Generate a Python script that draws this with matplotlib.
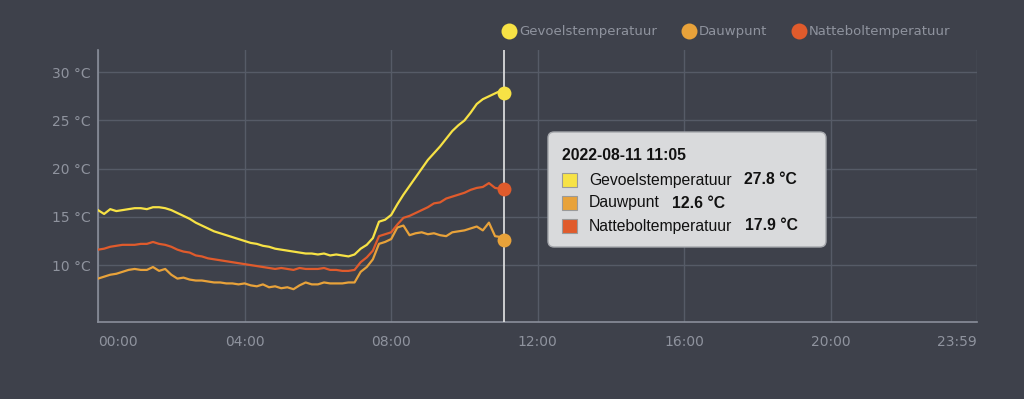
"""
Temperatuurverloop 2022-08-11: gevoelstemperatuur, dauwpunt en natteboltemperatuur
"""

import numpy as np
import matplotlib.pyplot as plt
from matplotlib.lines import Line2D
from matplotlib.patches import FancyBboxPatch, Rectangle
from matplotlib.text import Annotation

# metingen om de 10 minuten vanaf 00:00, laatste meting 11:05
minuten = list(range(0, 661, 10)) + [665]

gevoel = [
    15.7, 15.3, 15.8, 15.6, 15.7, 15.8, 15.9, 15.9, 15.8, 16.0, 16.0, 15.9,
    15.7, 15.4, 15.1, 14.8, 14.4, 14.1, 13.8, 13.5, 13.3, 13.1, 12.9, 12.7,
    12.5, 12.3, 12.2, 12.0, 11.9, 11.7, 11.6, 11.5, 11.4, 11.3, 11.2, 11.2,
    11.1, 11.2, 11.0, 11.1, 11.0, 10.9, 11.1, 11.7, 12.1, 12.8, 14.5, 14.7,
    15.2, 16.3, 17.3, 18.2, 19.1, 20.0, 20.9, 21.6, 22.3, 23.1, 23.9, 24.5,
    25.0, 25.8, 26.7, 27.2, 27.5, 27.8, 28.1, 27.8,
]
dauwpunt = [
    8.6, 8.8, 9.0, 9.1, 9.3, 9.5, 9.6, 9.5, 9.5, 9.8, 9.4, 9.6,
    9.0, 8.6, 8.7, 8.5, 8.4, 8.4, 8.3, 8.2, 8.2, 8.1, 8.1, 8.0,
    8.1, 7.9, 7.8, 8.0, 7.7, 7.8, 7.6, 7.7, 7.5, 7.9, 8.2, 8.0,
    8.0, 8.2, 8.1, 8.1, 8.1, 8.2, 8.2, 9.3, 9.8, 10.6, 12.2, 12.4,
    12.7, 13.9, 14.1, 13.1, 13.3, 13.4, 13.2, 13.3, 13.1, 13.0, 13.4, 13.5,
    13.6, 13.8, 14.0, 13.6, 14.4, 13.0, 12.9, 12.6,
]
natbol = [
    11.6, 11.7, 11.9, 12.0, 12.1, 12.1, 12.1, 12.2, 12.2, 12.4, 12.2, 12.1,
    11.9, 11.6, 11.4, 11.3, 11.0, 10.9, 10.7, 10.6, 10.5, 10.4, 10.3, 10.2,
    10.1, 10.0, 9.9, 9.8, 9.7, 9.6, 9.7, 9.6, 9.5, 9.7, 9.6, 9.6,
    9.6, 9.7, 9.5, 9.5, 9.4, 9.4, 9.5, 10.3, 10.8, 11.5, 13.0, 13.2,
    13.4, 14.2, 14.9, 15.1, 15.4, 15.7, 16.0, 16.4, 16.5, 16.9, 17.1, 17.3,
    17.5, 17.8, 18.0, 18.1, 18.5, 18.0, 17.9, 17.9,
]

reeksen = ["Gevoelstemperatuur", "Dauwpunt", "Natteboltemperatuur"]
kleuren = ["#f7e245", "#e8a23a", "#e05b2c"]
xticks_uur = [0, 4, 8, 12, 16, 20, 23 + 59 / 60]
xtick_labels = ["00:00", "04:00", "08:00", "12:00", "16:00", "20:00", "23:59"]
yticks = [10, 15, 20, 25, 30]
tijdstip = "2022-08-11 11:05"

BG = "#3e414b"
GRID = "#565b67"
TEXT = "#8f939e"
TIP_FONT = dict(fontsize=11.3, family="Liberation Sans", color="#111111",
                va="center", zorder=11)

fig = plt.figure(figsize=(10.24, 3.99), dpi=100, facecolor=BG)
ax = fig.add_axes([98 / 1024, 1 - 322 / 399, 879 / 1024, 272 / 399])
ax.set_facecolor(BG)

uren = np.array(minuten) / 60
for naam, waarden, kleur in zip(reeksen, [gevoel, dauwpunt, natbol], kleuren):
    ax.plot(uren, waarden, color=kleur, lw=1.6, zorder=3)
    ax.plot(uren[-1], waarden[-1], "o", color=kleur, ms=10, mew=0, zorder=5)

# cursorlijn
ax.axvline(uren[-1], color="#e6e6e6", lw=1.2, zorder=4)

ax.set_xlim(0, 23 + 59 / 60)
ax.set_ylim(4.1, 32.3)
ax.set_xticks(xticks_uur)
ax.set_xticklabels(xtick_labels)
ax.set_yticks(yticks)
ax.set_yticklabels([f"{v} °C" for v in yticks])
ax.tick_params(length=0, labelsize=10, labelcolor=TEXT)
ax.tick_params(axis="x", pad=9)
ax.tick_params(axis="y", pad=5)
lbls = ax.get_xticklabels()
lbls[0].set_ha("left")
lbls[-1].set_ha("right")
ax.grid(True, color=GRID, lw=1, zorder=0)
for kant in ["top", "right"]:
    ax.spines[kant].set_visible(False)
for kant in ["left", "bottom"]:
    ax.spines[kant].set_color("#8a8f9b")
    ax.spines[kant].set_linewidth(1.2)

# legenda
handles = [
    Line2D([], [], ls="none", marker="o", ms=11.5, mew=0, color=k) for k in kleuren
]
fig.legend(
    handles, reeksen, loc="center right", bbox_to_anchor=(950 / 1024, 1 - 32 / 399),
    ncol=3, frameon=False, fontsize=9.5, labelcolor=TEXT, handlelength=1.0,
    handletextpad=0.25, columnspacing=1.9, borderpad=0, borderaxespad=0,
)

# tooltip
px = lambda x, y: (x / 1024, 1 - y / 399)
box = FancyBboxPatch(
    px(548, 247), 278 / 1024, 115 / 399, transform=fig.transFigure,
    boxstyle="round,pad=0,rounding_size=0.006", fc="#d9dadc", ec="#a5a7ac",
    lw=1, zorder=10, mutation_aspect=2.5,
)
fig.patches.append(box)
fig.text(*px(562, 156), tijdstip, fontweight="bold", **TIP_FONT)
waarden_nu = [gevoel[-1], dauwpunt[-1], natbol[-1]]
for i, (naam, kleur, w) in enumerate(zip(reeksen, kleuren, waarden_nu)):
    y = 180 + i * 23
    fig.patches.append(Rectangle(px(562, y + 7), 15 / 1024, 14 / 399,
                                 transform=fig.transFigure, fc=kleur,
                                 ec="#9a9a9a", lw=0.8, zorder=11))
    t = fig.text(*px(589, y), naam, **TIP_FONT)
    fig.add_artist(Annotation(
        f"{w:.1f} °C", xy=(1, 0.5), xycoords=t, xytext=(9, 0),
        textcoords="offset points", fontweight="bold", **TIP_FONT,
    ))

fig.savefig("out.png", dpi=100, facecolor=BG)
